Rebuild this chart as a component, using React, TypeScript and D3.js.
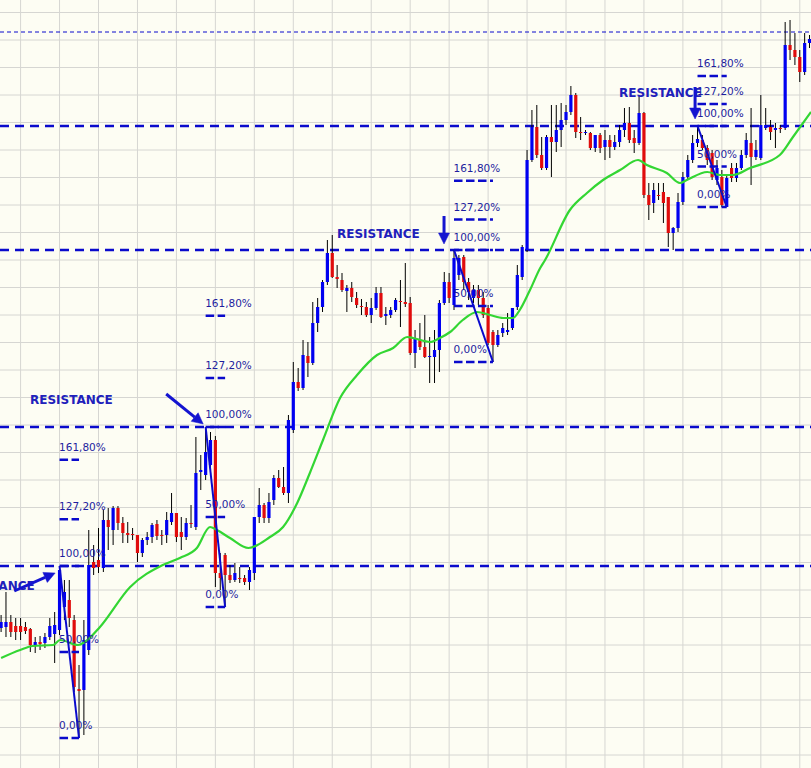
import React from "react";
import * as d3 from "d3";

const WIDTH = 811;
const HEIGHT = 768;

// Bars: [open, high, low, close] in points
const ohlc: [number, number, number, number][] = [
  [372, 385, 368, 378], [373, 408, 363, 378], [378, 385, 363, 368], [374, 382, 360, 368],
  [374, 382, 360, 368], [373, 378, 366, 369], [371, 372, 348, 355], [355, 363, 347, 358],
  [358, 364, 350, 356], [357, 367, 352, 363], [363, 382, 360, 374], [366, 388, 337, 375],
  [370, 434, 365, 430], [393, 420, 380, 408], [400, 420, 373, 382], [380, 385, 308, 313],
  [311, 335, 262, 309], [310, 380, 265, 360], [350, 470, 345, 435], [438, 455, 425, 432],
  [440, 472, 427, 433], [432, 490, 428, 480], [480, 492, 450, 473], [470, 494, 455, 492],
  [492, 494, 470, 477], [477, 483, 457, 467], [467, 478, 457, 465], [466, 472, 460, 465],
  [465, 465, 438, 447], [447, 462, 443, 460], [460, 468, 455, 463], [463, 477, 457, 475],
  [476, 480, 460, 464], [465, 470, 455, 464], [465, 488, 457, 480], [478, 507, 475, 487],
  [487, 487, 458, 463], [468, 483, 450, 463], [463, 482, 460, 477], [477, 495, 472, 476],
  [473, 563, 470, 527], [528, 545, 510, 530], [525, 573, 520, 548], [535, 568, 530, 560],
  [560, 564, 413, 427], [427, 447, 410, 422], [445, 447, 393, 425], [425, 435, 417, 420],
  [420, 437, 418, 427], [422, 433, 417, 421], [422, 425, 415, 418], [418, 433, 410, 430],
  [427, 483, 420, 483], [483, 512, 477, 495], [495, 497, 477, 482], [482, 507, 477, 498],
  [500, 525, 495, 522], [522, 530, 512, 513], [513, 533, 505, 507], [507, 585, 497, 580],
  [570, 638, 567, 618], [618, 632, 609, 612], [612, 660, 610, 645], [644, 658, 623, 637],
  [637, 698, 635, 677], [677, 702, 668, 693], [693, 720, 688, 718], [718, 760, 715, 747],
  [747, 765, 722, 723], [723, 735, 712, 721], [720, 727, 708, 710], [709, 715, 688, 712],
  [712, 718, 698, 703], [702, 708, 692, 695], [694, 701, 685, 693], [693, 698, 683, 685],
  [685, 702, 677, 692], [692, 713, 690, 707], [707, 713, 682, 683], [684, 693, 675, 686],
  [685, 693, 682, 690], [690, 702, 688, 700], [699, 720, 673, 698], [698, 737, 693, 696],
  [697, 703, 645, 647], [647, 670, 632, 662], [660, 677, 650, 653], [653, 685, 642, 643],
  [643, 663, 617, 644], [643, 670, 617, 650], [650, 700, 628, 697], [697, 728, 695, 718],
  [718, 727, 697, 702], [695, 750, 690, 742], [725, 745, 720, 742], [743, 745, 710, 718],
  [718, 722, 700, 708], [702, 715, 697, 710], [710, 715, 695, 702], [702, 708, 682, 685],
  [692, 695, 655, 657], [668, 670, 638, 655], [655, 670, 653, 665], [667, 677, 663, 672],
  [668, 687, 665, 670], [672, 692, 670, 692], [693, 735, 690, 725], [723, 755, 720, 753],
  [750, 850, 748, 840], [840, 890, 838, 873], [873, 895, 842, 845], [845, 863, 830, 832],
  [832, 865, 830, 863], [863, 895, 823, 858], [858, 895, 848, 870], [870, 897, 853, 880],
  [880, 895, 875, 888], [888, 914, 885, 905], [905, 907, 862, 868], [868, 883, 860, 867],
  [867, 870, 865, 868], [867, 868, 850, 852], [852, 865, 848, 865], [865, 867, 847, 852],
  [853, 870, 840, 860], [860, 865, 842, 853], [853, 865, 850, 858], [858, 875, 853, 870],
  [870, 892, 863, 877], [877, 893, 857, 860], [862, 870, 847, 857], [857, 905, 855, 887],
  [887, 888, 802, 805], [805, 817, 780, 795], [797, 817, 787, 810], [805, 817, 800, 804],
  [808, 817, 777, 797], [803, 803, 753, 767], [767, 773, 750, 772], [772, 807, 768, 798],
  [798, 828, 795, 823], [823, 845, 820, 840], [840, 865, 837, 857], [857, 874, 853, 861],
  [860, 865, 850, 852], [852, 855, 835, 840], [847, 850, 820, 823], [820, 840, 815, 832],
  [823, 830, 793, 795], [793, 825, 793, 822], [832, 837, 818, 822], [822, 837, 818, 832],
  [832, 850, 830, 845], [845, 867, 842, 860], [857, 892, 815, 843], [843, 860, 840, 850],
  [842, 905, 840, 875], [872, 892, 870, 875], [873, 880, 860, 868], [870, 877, 852, 872],
  [872, 875, 867, 871], [872, 978, 870, 955], [955, 980, 940, 950], [950, 967, 935, 943],
  [943, 950, 918, 928], [928, 967, 925, 957], [957, 965, 952, 961],
];

// Moving average knots: [bar, value]
const maPoints: [number, number][] = [
  [0, 342], [3.9, 350], [6.5, 354], [10.7, 355], [12.1, 360], [15.8, 355], [17.2, 358],
  [20.3, 373], [26.5, 413], [33.2, 435], [36.7, 442], [40.2, 452], [42.9, 473], [44.3, 470],
  [47, 462], [50.8, 452], [55.2, 463], [57.9, 473], [60.8, 497], [63.4, 527], [66.1, 560],
  [69.6, 602], [73.1, 625], [77.2, 645], [80.5, 652], [83.4, 663], [84.6, 662], [88.1, 658],
  [90.1, 662], [92.2, 668], [94.8, 680], [97.7, 688], [100.4, 685], [103.1, 682], [105.1, 682],
  [106.5, 690], [108.6, 710], [110.7, 732], [111.7, 740], [116.8, 790], [120.3, 807],
  [123.6, 820], [127.1, 830], [130.8, 840], [132.6, 835], [136.7, 827], [139.4, 817],
  [140.8, 820], [145, 828], [147.6, 825], [150.3, 825], [153.8, 832], [159.9, 845],
  [162.6, 863], [166.3, 888],
];

const resistanceLevels = [434, 573, 750, 874];
const upperLevel = 968;

const fibRatios = [0, 0.5, 1, 1.272, 1.618];
const fibLabels = ["0,00%", "50,00%", "100,00%", "127,20%", "161,80%"];
// Swings: start bar (high), end bar (low), high, low
const fibStart = [12, 42, 93, 143];
const fibEnd = [16, 46, 101, 149];
const fibHigh = [434, 573, 750, 874];
const fibLow = [262, 393, 638, 793];

// Text notes placed at [bar, price]
const noteText = ["RESISTANCE", "RESISTANCE", "RESISTANCE", "RESISTANCE"];
const noteBar = [-10.1, 5.93, 68.97, 126.9];
const notePrice = [410, 596, 762, 903];

// Arrows: [fromBar, fromPrice, toBar, toPrice]
const arrows: [number, number, number, number][] = [
  [2.7, 409, 11.1, 427],
  [33.9, 606, 41.5, 576],
  [90.95, 784, 90.95, 756],
  [142.5, 913, 142.5, 881],
];

const BULL = "#0000f0";
const BEAR = "#e00c0c";
const LINE = "#0a0acc";
const TEXT = "#1e1e9e";

export default function App() {
  const x = d3.scaleLinear().domain([0, 166]).range([1.1, 1.1 + 166 * 4.87]);
  const y = d3.scaleLinear().domain([232, 1000]).range([HEIGHT, 0]);

  const gridBars = d3.range(4, 170, 8);
  const gridPrices = d3.range(987.5, 200, -27.5);

  const maLine = d3
    .line<[number, number]>()
    .x((d) => x(d[0]))
    .y((d) => y(d[1]))
    .curve(d3.curveMonotoneX);

  const font = "'DejaVu Sans', Verdana, sans-serif";

  return (
    <svg
      width={WIDTH}
      height={HEIGHT}
      style={{ position: "absolute", left: 0, top: 0, display: "block" }}
    >
      <rect width={WIDTH} height={HEIGHT} fill="#fdfdf3" />

      {/* grid */}
      <g stroke="#d6d6d2" strokeWidth={1}>
        {gridBars.map((b) => (
          <line key={"gx" + b} x1={x(b)} x2={x(b)} y1={0} y2={HEIGHT} />
        ))}
        {gridPrices.map((p) => (
          <line key={"gy" + p} x1={0} x2={WIDTH} y1={y(p)} y2={y(p)} />
        ))}
      </g>

      {/* upper reference level */}
      <line
        x1={0}
        x2={WIDTH}
        y1={y(upperLevel)}
        y2={y(upperLevel)}
        stroke={LINE}
        strokeWidth={1}
        strokeDasharray="4,3"
      />

      {/* resistance levels */}
      {resistanceLevels.map((p) => (
        <line
          key={"r" + p}
          x1={0}
          x2={WIDTH}
          y1={y(p)}
          y2={y(p)}
          stroke={LINE}
          strokeWidth={2.4}
          strokeDasharray="9,6"
        />
      ))}

      {/* candles */}
      <g>
        {ohlc.map(([o, h, l, c], i) => {
          const cx = x(i);
          const top = y(Math.max(o, c));
          const bot = y(Math.min(o, c));
          return (
            <g key={"c" + i}>
              <line x1={cx} x2={cx} y1={y(h)} y2={y(l)} stroke="#000" strokeWidth={1} />
              <rect
                x={cx - 1.6}
                y={top}
                width={3.2}
                height={Math.max(1, bot - top)}
                fill={c > o ? BULL : BEAR}
              />
            </g>
          );
        })}
      </g>

      {/* moving average */}
      <path d={maLine(maPoints) ?? ""} fill="none" stroke="#33d633" strokeWidth={2.2} />

      {/* fibonacci swings */}
      {fibStart.map((s, k) => {
        const e = fibEnd[k];
        const hi = fibHigh[k];
        const lo = fibLow[k];
        const x1 = x(s);
        const x2 = x(e);
        return (
          <g key={"f" + k}>
            <line x1={x1} y1={y(hi)} x2={x2} y2={y(lo)} stroke={LINE} strokeWidth={2} />
            {fibRatios.map((r, j) => {
              const lv = lo + (hi - lo) * r;
              return (
                <g key={"fl" + j}>
                  <line
                    x1={x1}
                    x2={x2}
                    y1={y(lv)}
                    y2={y(lv)}
                    stroke={LINE}
                    strokeWidth={2.4}
                    strokeDasharray="8.5,3.5"
                  />
                  <text
                    x={x1 - 0.5}
                    y={y(lv) - 9}
                    fill={TEXT}
                    fontFamily={font}
                    fontSize={10.5}
                  >
                    {fibLabels[j]}
                  </text>
                </g>
              );
            })}
          </g>
        );
      })}

      {/* notes */}
      {noteText.map((t, k) => (
        <text
          key={"n" + k}
          x={x(noteBar[k])}
          y={y(notePrice[k])}
          fill="#2020bb"
          fontFamily={font}
          fontWeight="bold"
          fontSize={12}
        >
          {t}
        </text>
      ))}

      {/* arrows */}
      {arrows.map(([b0, p0, b1, p1], k) => {
        const x0 = x(b0);
        const y0 = y(p0);
        const x1 = x(b1);
        const y1 = y(p1);
        const ang = Math.atan2(y1 - y0, x1 - x0);
        const len = 11;
        const half = 5.5;
        const bx = x1 - len * Math.cos(ang);
        const by = y1 - len * Math.sin(ang);
        const nx = -Math.sin(ang) * half;
        const ny = Math.cos(ang) * half;
        return (
          <g key={"a" + k} fill="#1414d0" stroke="#1414d0">
            <line x1={x0} y1={y0} x2={bx} y2={by} strokeWidth={3} />
            <polygon
              points={`${x1},${y1} ${bx + nx},${by + ny} ${bx - nx},${by - ny}`}
              strokeWidth={0.5}
            />
          </g>
        );
      })}
    </svg>
  );
}
